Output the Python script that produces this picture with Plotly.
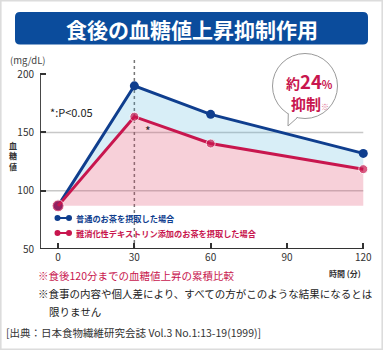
import plotly.graph_objects as go

# ---- data ----
times = [0, 30, 60, 120]
normal_tea = [87, 190, 165.5, 132]          # 普通のお茶を摂取した場合
dextrin_tea = [87, 163.5, 140.5, 118.5]      # 難消化性デキストリン添加のお茶を摂取した場合
x_ticks = [0, 30, 60, 90, 120]
y_ticks = [50, 100, 150, 200]
y_grid = [100, 150]
name_normal = "普通のお茶を摂取した場合"
name_dextrin = "難消化性デキストリン添加のお茶を摂取した場合"
title_text = "食後の血糖値上昇抑制作用"

FONT = "Noto Sans CJK JP"
BLUE = "#0f3e8e"
RED = "#c8164e"
TXT = "#333333"

# plot-area geometry (pixels)
W_FIG, H_FIG = 383, 350
L, R, T, B = 40, 7, 59, 101
PW = W_FIG - L - R
PH = H_FIG - T - B
XMIN, XMAX = -7.1, 125
YMIN, YMAX = 50, 213


def PX(px):
    return (px - L) / PW


def PY(py):
    return (T + PH - py) / PH


baseline = [normal_tea[0]] * len(times)

fig = go.Figure()
fig.add_trace(go.Scatter(x=times, y=baseline, mode="lines", line=dict(width=0),
                         showlegend=False, hoverinfo="skip"))
fig.add_trace(go.Scatter(x=times, y=dextrin_tea, mode="lines", line=dict(width=0),
                         fill="tonexty", fillcolor="rgba(222,60,100,0.245)",
                         showlegend=False, hoverinfo="skip"))
fig.add_trace(go.Scatter(x=times, y=normal_tea, mode="lines+markers", name=name_normal,
                         line=dict(color=BLUE, width=3),
                         marker=dict(color=BLUE, size=9),
                         fill="tonexty", fillcolor="rgba(60,170,215,0.2)",
                         showlegend=False, cliponaxis=False))
fig.add_trace(go.Scatter(x=times, y=dextrin_tea, mode="lines+markers", name=name_dextrin,
                         line=dict(color=RED, width=3),
                         marker=dict(color=RED, size=[12, 9, 9, 9]),
                         showlegend=False, cliponaxis=False))

shapes = []
# outer border
shapes.append(dict(type="rect", xref="paper", yref="paper",
                   x0=PX(0.8), x1=PX(382.2), y0=PY(0.8), y1=PY(349.2),
                   line=dict(color="#dcdcdc", width=1.6), fillcolor="rgba(0,0,0,0)", layer="below"))
# title banner (rounded)
bx0, bx1, by0, by1, r = 15, 368, 12, 44.5, 5
path = (f"M{PX(bx0+r)},{PY(by0)} L{PX(bx1-r)},{PY(by0)} "
        f"Q{PX(bx1)},{PY(by0)} {PX(bx1)},{PY(by0+r)} L{PX(bx1)},{PY(by1-r)} "
        f"Q{PX(bx1)},{PY(by1)} {PX(bx1-r)},{PY(by1)} L{PX(bx0+r)},{PY(by1)} "
        f"Q{PX(bx0)},{PY(by1)} {PX(bx0)},{PY(by1-r)} L{PX(bx0)},{PY(by0+r)} "
        f"Q{PX(bx0)},{PY(by0)} {PX(bx0+r)},{PY(by0)} Z")
shapes.append(dict(type="path", xref="paper", yref="paper", path=path,
                   fillcolor="#0b4c9c", line=dict(width=0)))
# gridlines
for g in y_grid:
    shapes.append(dict(type="line", xref="x", yref="y", x0=XMIN, x1=120, y0=g, y1=g,
                       line=dict(color="#c8c8c8", width=1.5), layer="below"))
# vertical dotted line at 30 min
shapes.append(dict(type="line", xref="x", yref="y", x0=30, x1=30, y0=YMIN, y1=YMAX,
                   line=dict(color="#777777", width=1.5, dash="dot"), layer="below"))
# axes lines
shapes.append(dict(type="line", xref="x", yref="y", x0=XMIN, x1=XMIN, y0=50, y1=200,
                   line=dict(color=TXT, width=1.8)))
shapes.append(dict(type="line", xref="x", yref="y", x0=XMIN, x1=120, y0=50, y1=50,
                   line=dict(color=TXT, width=1.8)))
# speech bubble
cx, cy, cr = 305, 86, 32.5
shapes.append(dict(type="circle", xref="paper", yref="paper",
                   x0=PX(cx - cr), x1=PX(cx + cr), y0=PY(cy + cr), y1=PY(cy - cr),
                   line=dict(color="#9a9a9a", width=1), fillcolor="white"))
shapes.append(dict(type="path", xref="paper", yref="paper",
                   path=f"M{PX(288.3)},{PY(112)} L{PX(288)},{PY(126)} L{PX(297.5)},{PY(116.5)} Z",
                   fillcolor="white", line=dict(width=0)))
shapes.append(dict(type="path", xref="paper", yref="paper",
                   path=f"M{PX(288.3)},{PY(113.5)} L{PX(288)},{PY(126)} L{PX(297.5)},{PY(117.5)}",
                   fillcolor="rgba(0,0,0,0)", line=dict(color="#9a9a9a", width=1)))
# manual legend glyphs
for yy, col in [(218, BLUE), (233, RED)]:
    shapes.append(dict(type="line", xref="paper", yref="paper",
                       x0=PX(57), x1=PX(69), y0=PY(yy), y1=PY(yy),
                       line=dict(color=col, width=2)))
    for xx in (57.5, 69):
        shapes.append(dict(type="circle", xref="paper", yref="paper",
                           x0=PX(xx - 3), x1=PX(xx + 3), y0=PY(yy + 3), y1=PY(yy - 3),
                           line=dict(width=0), fillcolor=col))

ann = []


def A(text, px, py, size, color=TXT, xanchor="left", bold=False, **kw):
    t = f"<b>{text}</b>" if bold else text
    ann.append(dict(text=t, x=PX(px), y=PY(py), xref="paper", yref="paper",
                    xanchor=xanchor, yanchor="middle", showarrow=False,
                    font=dict(family=FONT, size=size, color=color), **kw))


A(title_text, 191.5, 28.5, 21, "white", xanchor="center", bold=True)
A("(mg/dL)", 8, 59.5, 9.5, "#444444")
A("血<br>糖<br>値", 13, 156, 8, TXT, xanchor="center", bold=True)
A("*:P&lt;0.05", 48, 112, 11, "#222222")
A("*", 148, 130, 12, "#222222", xanchor="center")
A(name_normal, 74, 218, 8.2, BLUE, bold=True)
A(name_dextrin, 74, 233, 8.2, RED, bold=True)
A("時間 (分)", 363, 273, 8, TXT, xanchor="right", bold=True)
A('<span style="font-size:14px">約</span>24<span style="font-size:11px">%</span>',
  309, 80.5, 18.5, RED, xanchor="center", bold=True)
A('抑制<span style="font-size:8px;color:#e07090">※</span>',
  310, 103, 15, RED, xanchor="center", bold=True)
A("※食後120分までの血糖値上昇の累積比較", 36, 275, 10.5, RED)
A("※食事の内容や個人差により、すべての方がこのような結果になるとは", 36, 293, 10.5, "#222222")
A("限りません", 47, 311, 10.5, "#222222")
A("[出典：日本食物繊維研究会誌 Vol.3 No.1:13-19(1999)]", 4, 332, 10.5, TXT)

fig.update_layout(
    width=W_FIG, height=H_FIG,
    margin=dict(l=L, r=R, t=T, b=B, pad=0),
    paper_bgcolor="white", plot_bgcolor="white",
    showlegend=False,
    shapes=shapes, annotations=ann,
    font=dict(family=FONT, color=TXT),
    xaxis=dict(range=[XMIN, XMAX], showgrid=False, zeroline=False, showline=False,
               tickvals=x_ticks, ticks="inside", ticklen=6, tickwidth=1.5, tickcolor=TXT,
               tickfont=dict(family=FONT, size=10, color=TXT), ticklabelstandoff=1),
    yaxis=dict(range=[YMIN, YMAX], showgrid=False, zeroline=False, showline=False,
               tickvals=y_ticks, ticks="inside", ticklen=6, tickwidth=1.5, tickcolor=TXT,
               tickfont=dict(family=FONT, size=10, color=TXT), ticklabelstandoff=5),
)

fig.write_html("out.html")
